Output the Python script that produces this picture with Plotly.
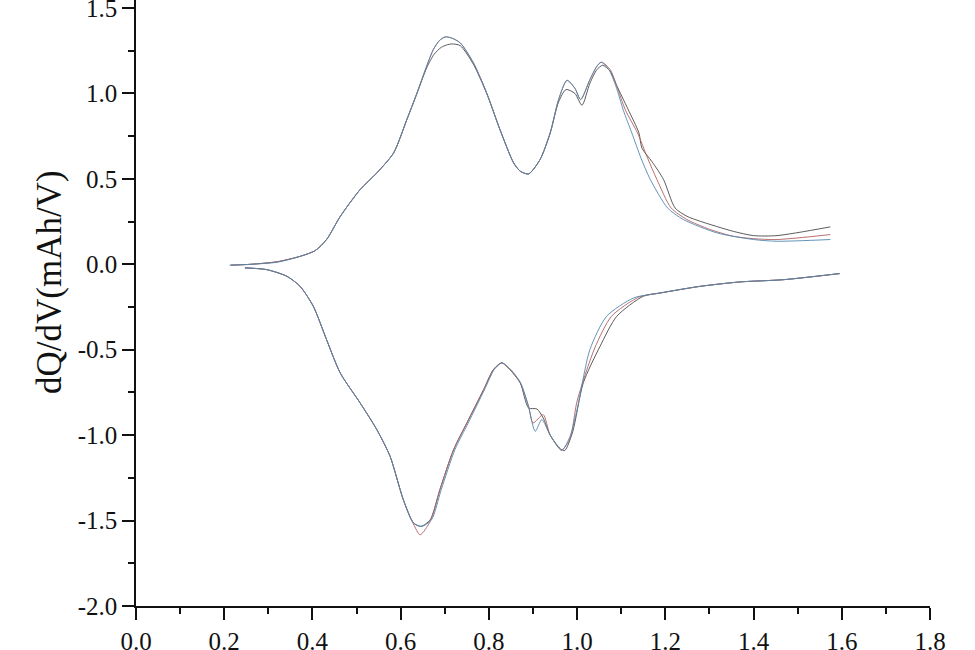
import plotly.graph_objects as go

# ---- Charge (upper) curves ----
charge_black_v = [0.215, 0.26, 0.32, 0.37, 0.406, 0.432, 0.463, 0.508, 0.546, 0.584, 0.614, 0.637, 0.659, 0.676, 0.692, 0.706, 0.716, 0.735, 0.765, 0.795, 0.825, 0.856, 0.871, 0.890, 0.916, 0.939, 0.958, 0.975, 0.995, 1.011, 1.029, 1.045, 1.058, 1.075, 1.090, 1.115, 1.140, 1.147, 1.170, 1.196, 1.222, 1.249, 1.279, 1.354, 1.400, 1.453, 1.574]
charge_black_q = [-0.005, 0.0, 0.015, 0.045, 0.08, 0.145, 0.28, 0.437, 0.535, 0.652, 0.847, 1.0, 1.15, 1.23, 1.27, 1.285, 1.29, 1.28, 1.17, 1.0, 0.789, 0.594, 0.545, 0.529, 0.613, 0.769, 0.95, 1.023, 1.0, 0.931, 1.06, 1.14, 1.165, 1.13, 1.045, 0.91, 0.77, 0.68, 0.60, 0.496, 0.33, 0.281, 0.252, 0.193, 0.168, 0.168, 0.219]

charge_red_v = [0.215, 0.26, 0.32, 0.37, 0.406, 0.432, 0.463, 0.508, 0.546, 0.584, 0.614, 0.637, 0.659, 0.674, 0.688, 0.701, 0.715, 0.735, 0.765, 0.795, 0.825, 0.856, 0.871, 0.890, 0.916, 0.939, 0.958, 0.977, 0.995, 1.008, 1.029, 1.045, 1.056, 1.075, 1.090, 1.110, 1.137, 1.160, 1.181, 1.213, 1.249, 1.300, 1.354, 1.400, 1.453, 1.574]
charge_red_q = [-0.005, 0.0, 0.015, 0.045, 0.08, 0.145, 0.28, 0.437, 0.535, 0.652, 0.847, 1.003, 1.16, 1.257, 1.31, 1.331, 1.325, 1.296, 1.179, 1.003, 0.789, 0.594, 0.545, 0.529, 0.613, 0.769, 0.964, 1.077, 1.03, 0.964, 1.081, 1.16, 1.183, 1.14, 1.042, 0.90, 0.769, 0.62, 0.496, 0.33, 0.262, 0.205, 0.164, 0.150, 0.145, 0.174]

charge_blue_v = [0.212, 0.26, 0.32, 0.37, 0.406, 0.432, 0.463, 0.508, 0.546, 0.584, 0.614, 0.637, 0.659, 0.674, 0.688, 0.701, 0.715, 0.735, 0.765, 0.795, 0.825, 0.856, 0.871, 0.890, 0.916, 0.939, 0.958, 0.977, 0.995, 1.008, 1.029, 1.045, 1.054, 1.072, 1.088, 1.105, 1.124, 1.145, 1.166, 1.205, 1.241, 1.317, 1.400, 1.453, 1.574]
charge_blue_q = [-0.005, 0.0, 0.012, 0.045, 0.08, 0.145, 0.28, 0.437, 0.535, 0.652, 0.847, 1.003, 1.16, 1.257, 1.31, 1.331, 1.325, 1.296, 1.179, 1.003, 0.789, 0.594, 0.545, 0.529, 0.613, 0.769, 0.964, 1.077, 1.03, 0.964, 1.081, 1.16, 1.183, 1.14, 1.042, 0.90, 0.769, 0.62, 0.496, 0.33, 0.262, 0.184, 0.145, 0.135, 0.145]

# ---- Discharge (lower) curves ----
dis_black_v = [0.247, 0.296, 0.342, 0.372, 0.402, 0.432, 0.463, 0.508, 0.546, 0.576, 0.606, 0.629, 0.646, 0.667, 0.689, 0.720, 0.750, 0.788, 0.810, 0.829, 0.848, 0.871, 0.890, 0.909, 0.923, 0.939, 0.962, 0.972, 0.990, 1.014, 1.052, 1.090, 1.150, 1.188, 1.279, 1.370, 1.468, 1.596]
dis_black_q = [-0.021, -0.031, -0.07, -0.129, -0.246, -0.441, -0.636, -0.811, -0.968, -1.124, -1.378, -1.514, -1.534, -1.495, -1.319, -1.085, -0.929, -0.734, -0.617, -0.577, -0.617, -0.694, -0.841, -0.847, -0.899, -1.0, -1.08, -1.09, -0.98, -0.694, -0.48, -0.304, -0.187, -0.168, -0.129, -0.103, -0.090, -0.054]

dis_red_v = [0.247, 0.296, 0.342, 0.372, 0.402, 0.432, 0.463, 0.508, 0.546, 0.576, 0.606, 0.629, 0.644, 0.667, 0.689, 0.720, 0.750, 0.788, 0.810, 0.829, 0.848, 0.871, 0.890, 0.900, 0.923, 0.939, 0.965, 0.984, 1.000, 1.040, 1.078, 1.140, 1.188, 1.279, 1.370, 1.468, 1.596]
dis_red_q = [-0.021, -0.031, -0.07, -0.129, -0.246, -0.441, -0.636, -0.811, -0.968, -1.124, -1.378, -1.52, -1.583, -1.505, -1.319, -1.085, -0.929, -0.734, -0.617, -0.577, -0.617, -0.694, -0.831, -0.929, -0.88, -1.0, -1.085, -1.02, -0.80, -0.49, -0.304, -0.192, -0.168, -0.129, -0.103, -0.090, -0.054]

dis_blue_v = [0.247, 0.296, 0.342, 0.372, 0.402, 0.432, 0.463, 0.508, 0.546, 0.576, 0.606, 0.629, 0.648, 0.670, 0.692, 0.723, 0.753, 0.790, 0.812, 0.830, 0.850, 0.872, 0.890, 0.905, 0.920, 0.939, 0.965, 0.984, 1.000, 1.029, 1.067, 1.128, 1.188, 1.279, 1.370, 1.468, 1.596]
dis_blue_q = [-0.021, -0.031, -0.07, -0.129, -0.246, -0.441, -0.636, -0.811, -0.968, -1.124, -1.378, -1.514, -1.534, -1.495, -1.319, -1.085, -0.929, -0.734, -0.617, -0.577, -0.617, -0.694, -0.835, -0.978, -0.909, -1.0, -1.09, -1.007, -0.85, -0.499, -0.304, -0.197, -0.168, -0.129, -0.103, -0.090, -0.054]

x_ticks = [0.0, 0.2, 0.4, 0.6, 0.8, 1.0, 1.2, 1.4, 1.6, 1.8]
y_ticks = [-2.0, -1.5, -1.0, -0.5, 0.0, 0.5, 1.0, 1.5]
y_title = "dQ/dV(mAh/V)"

BLACK = "#4a4a4a"
RED = "#b06060"
BLUE = "#5088b0"

fig = go.Figure()
series = [
    (charge_black_v, charge_black_q, BLACK),
    (dis_black_v, dis_black_q, BLACK),
    (charge_red_v, charge_red_q, RED),
    (dis_red_v, dis_red_q, RED),
    (charge_blue_v, charge_blue_q, BLUE),
    (dis_blue_v, dis_blue_q, BLUE),
]
for xv, yv, col in series:
    fig.add_trace(go.Scatter(x=xv, y=yv, mode="lines",
                             line=dict(color=col, width=0.9, shape="spline", smoothing=0.7),
                             showlegend=False, hoverinfo="skip"))

serif = "Liberation Serif, Times New Roman, serif"
fig.update_layout(
    width=975, height=650,
    margin=dict(l=136, r=45, t=0, b=44, pad=0, autoexpand=False),
    paper_bgcolor="white", plot_bgcolor="white",
    font=dict(family=serif, size=25, color="#111"),
    xaxis=dict(range=[0, 1.8], tickvals=x_ticks, ticktext=[f"{v:.1f}" for v in x_ticks],
               showline=True, linecolor="#111", linewidth=1.5, ticks="outside", ticklen=12, tickwidth=1.5,
               tickcolor="#111", showgrid=False, zeroline=False, ticklabeloverflow="allow",
               automargin=False,
               tickfont=dict(family=serif, size=25, color="#111"),
               minor=dict(ticks="outside", ticklen=6, tickwidth=1.5, tickcolor="#111", dtick=0.1)),
    yaxis=dict(range=[-2.0, 1.547], tickvals=y_ticks, ticktext=[f"{v:.1f}" for v in y_ticks],
               showline=True, linecolor="#111", linewidth=1.5, ticks="outside", ticklen=12, tickwidth=1.5,
               tickcolor="#111", showgrid=False, zeroline=False, ticklabeloverflow="allow",
               automargin=False,
               tickfont=dict(family=serif, size=25, color="#111"),
               minor=dict(ticks="outside", ticklen=6, tickwidth=1.5, tickcolor="#111", dtick=0.25)),
    annotations=[dict(text=y_title, xref="paper", yref="paper", x=-0.108, y=0.535, textangle=-90,
                      showarrow=False, font=dict(family=serif, size=35, color="#111"),
                      xanchor="center", yanchor="middle")],
)
fig.write_html("out.html", config={"displayModeBar": False},
               post_script="document.body.style.margin='0px';document.body.style.padding='0px';")
